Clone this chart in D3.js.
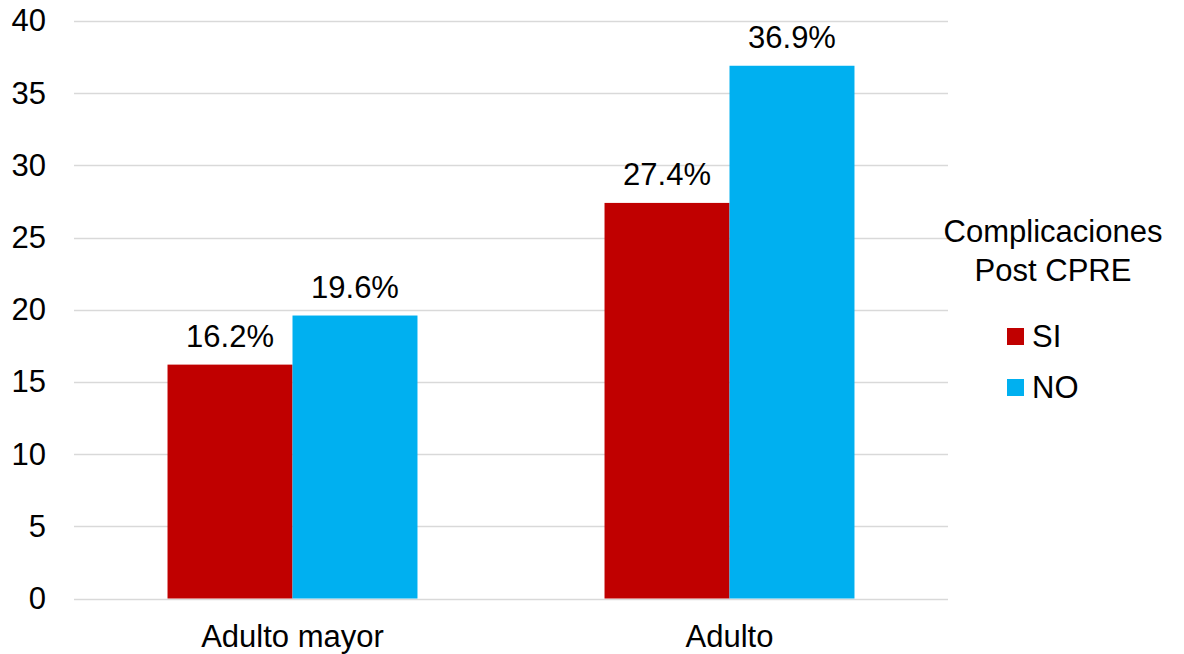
<!DOCTYPE html>
<html>
<head>
<meta charset="utf-8">
<script src="https://cdn.jsdelivr.net/npm/d3@7"></script>
<style>
  body { margin: 0; background: #fff; }
  text { font-family: "Liberation Sans", Arial, sans-serif; fill: #000; }
</style>
</head>
<body>
<div id="container"></div>
<script>
/* DATA */
const categories = ["Adulto mayor", "Adulto"];
const seriesNames = ["SI", "NO"];
const siValues = [16.2, 27.4];
const noValues = [19.6, 36.9];
const yTicks = [0, 5, 10, 15, 20, 25, 30, 35, 40];
const legendTitle = ["Complicaciones", "Post CPRE"];

const width = 1184, height = 654,
  margin = { top: 21, bottom: 55, left: 74, right: 236 },
  fontSize = 31;
const colors = { SI: "#c00000", NO: "#00b0f0" };

const svg = d3.select("#container").append("svg")
  .attr("width", width).attr("height", height);

/* SCALES */
const x = d3.scaleBand()
  .domain(categories)
  .range([margin.left, width - margin.right])
  .paddingInner(0.428)
  .paddingOuter(0.214);

const xInner = d3.scaleBand()
  .domain(seriesNames)
  .range([0, x.bandwidth()]);

const y = d3.scaleLinear()
  .domain([0, 40])
  .range([height - margin.bottom - 0.5, margin.top]);

// gridlines
svg.append("g")
  .selectAll("line")
  .data(yTicks)
  .join("line")
  .attr("x1", margin.left).attr("x2", width - margin.right)
  .attr("y1", d => Math.round(y(d)) + 0.5).attr("y2", d => Math.round(y(d)) + 0.5)
  .attr("stroke", "#d9d9d9").attr("stroke-width", 1.5);

// y axis labels
const yAxis = d3.axisLeft(y).tickValues(yTicks).tickSize(0).tickPadding(0);
svg.append("g")
  .attr("transform", `translate(${margin.left - 28},0)`)
  .call(yAxis)
  .call(g => g.select(".domain").remove())
  .selectAll("text")
  .attr("font-size", fontSize)
  .attr("font-family", "Liberation Sans, Arial, sans-serif")
  .attr("fill", "#000");

// x axis labels
const xAxis = d3.axisBottom(x).tickSize(0).tickPadding(26);
svg.append("g")
  .attr("transform", `translate(0,${height - margin.bottom})`)
  .call(xAxis)
  .call(g => g.select(".domain").remove())
  .selectAll("text")
  .attr("font-size", fontSize)
  .attr("font-family", "Liberation Sans, Arial, sans-serif")
  .attr("fill", "#000");

// bars
const rows = categories.map((c, i) => ({ cat: c, SI: siValues[i], NO: noValues[i] }));
const groups = svg.append("g").selectAll("g")
  .data(rows)
  .join("g")
  .attr("transform", d => `translate(${x(d.cat)},0)`);

groups.selectAll("rect")
  .data(d => seriesNames.map(s => ({ s, v: d[s] })))
  .join("rect")
  .attr("x", d => xInner(d.s))
  .attr("width", xInner.bandwidth())
  .attr("y", d => y(d.v))
  .attr("height", d => y(0) - y(d.v))
  .attr("fill", d => colors[d.s]);

groups.selectAll("text.lbl")
  .data(d => seriesNames.map(s => ({ s, v: d[s] })))
  .join("text")
  .attr("class", "lbl")
  .attr("x", d => xInner(d.s) + xInner.bandwidth() / 2)
  .attr("y", d => y(d.v) - 18)
  .attr("text-anchor", "middle")
  .attr("font-size", fontSize)
  .text(d => d.v.toFixed(1) + "%");

// legend
const lg = svg.append("g").attr("transform", "translate(1053,0)");
lg.selectAll("text.title")
  .data(legendTitle)
  .join("text")
  .attr("class", "title")
  .attr("x", 0)
  .attr("y", (d, i) => 242 + i * 39)
  .attr("text-anchor", "middle")
  .attr("font-size", fontSize)
  .text(d => d);

const items = lg.selectAll("g.item")
  .data(seriesNames)
  .join("g")
  .attr("class", "item")
  .attr("transform", (d, i) => `translate(-46,${328 + i * 51})`);
items.append("rect")
  .attr("width", 17).attr("height", 17)
  .attr("fill", d => colors[d]);
items.append("text")
  .attr("x", 25).attr("y", 19)
  .attr("font-size", fontSize)
  .text(d => d);
</script>
</body>
</html>
